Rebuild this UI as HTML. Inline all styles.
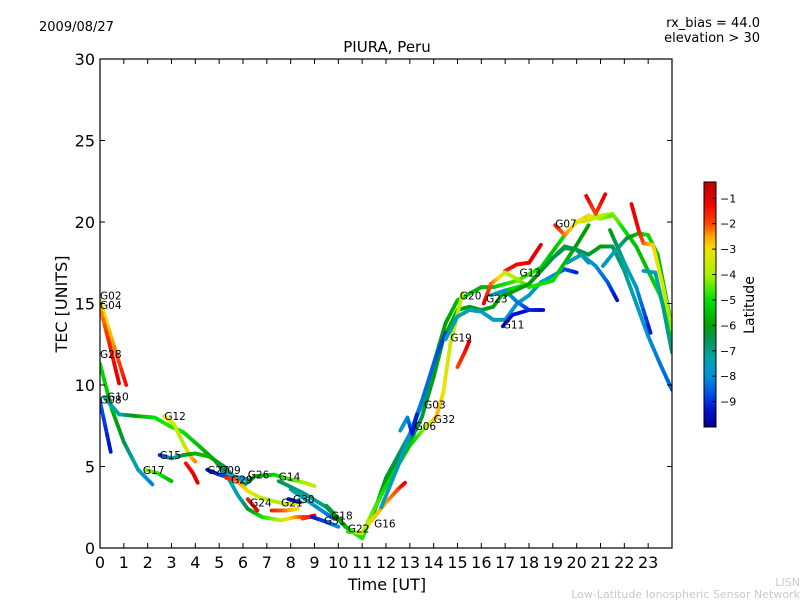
<!DOCTYPE html>
<html><head><meta charset="utf-8"><style>
html,body{margin:0;padding:0;background:#fff;}
svg{display:block;font-family:"DejaVu Sans","Liberation Sans",sans-serif;}
</style></head><body>
<svg id="chart" width="800" height="600" viewBox="0 0 800 600">
<defs>
<linearGradient id="cbgrad" x1="0" y1="1" x2="0" y2="0">
</linearGradient>
<clipPath id="plotclip"><rect x="100" y="59" width="572" height="489"/></clipPath>
</defs>
<text x="39" y="31" font-size="13">2009/08/27</text>
<text x="760" y="27" font-size="13" text-anchor="end">rx_bias = 44.0</text>
<text x="760" y="42" font-size="13" text-anchor="end">elevation &gt; 30</text>
<text x="387" y="52" font-size="15" text-anchor="middle">PIURA, Peru</text>
<g id="tracks" clip-path="url(#plotclip)"></g>
<g id="labels"></g>
<rect x="100" y="59" width="572" height="489" fill="none" stroke="#000" stroke-width="1.2"/>
<g id="axes"></g>
<text x="387" y="590" font-size="16" text-anchor="middle">Time [UT]</text>
<text x="67" y="304" font-size="16" text-anchor="middle" transform="rotate(-90 67 304)">TEC [UNITS]</text>
<rect id="cbar" x="704" y="182" width="12" height="245" fill="url(#cbgrad)" stroke="#000" stroke-width="1"/>
<g id="cbticks"></g>
<text x="754" y="305" font-size="14" text-anchor="middle" transform="rotate(-90 754 305)">Latitude</text>
<text x="800" y="586" font-size="11" fill="#c8c8c8" text-anchor="end">LISN</text>
<text x="800" y="598" font-size="11" fill="#c8c8c8" text-anchor="end">Low-Latitude Ionospheric Sensor Network</text>
</svg>
<script>
const xTicks=[0,1,2,3,4,5,6,7,8,9,10,11,12,13,14,15,16,17,18,19,20,21,22,23];
const yTicks=[0,5,10,15,20,25,30];
const cbTicks=[-1,-2,-3,-4,-5,-6,-7,-8,-9];
const trackNames=["G02","G04","G28","G08","G10","G12","G15","Gr1","G17","G27","G26","G29","G24","G21","G30","Gr2","G31","G18","GA","GB","G32","Gr3","G16","G03","G06","GC","G11","GD","G13","G23","G07","Gr4","GE","GF","GG","GH","GI","GJ"];
const tG02=[[0,15.2,-3.5],[0.5,12.8,-2.6],[1.1,10.0,-1.3]];
const tG04=[[0,14.8,-2.6],[0.4,12.5,-1.6],[0.8,10.1,-1]];
const tG28=[[0,11.3,-5],[0.5,8.5,-5.5],[1,6.5,-6.5],[1.6,4.8,-7.5],[2.2,3.9,-8.2]];
const tG08=[[0,9.0,-8.5],[0.45,5.9,-9.4]];
const tG10=[[0.2,9.2,-7.2],[0.8,8.2,-7.5],[1.5,8.1,-6],[2.3,8.0,-5],[2.9,7.5,-4.8],[3.5,7.1,-5],[4.2,6.2,-5.5],[4.8,5.4,-6],[5.3,4.5,-7],[5.8,3.2,-7.5],[6.2,2.4,-6.5],[6.8,1.9,-5],[7.6,1.7,-3.8],[8.2,1.9,-2.5],[8.9,1.9,-1.3]];
const tG12=[[2.7,8.1,-2.8],[3.1,7.6,-3.5],[3.5,6.4,-3.8],[3.8,5.6,-3],[4.0,5.3,-2.3]];
const tG15=[[2.5,5.7,-9.2],[3.0,5.5,-8],[3.5,5.7,-6.5],[4,5.8,-5.6],[4.6,5.6,-5.6],[5.2,5.0,-6.5],[5.6,4.4,-7.5],[6.2,4.2,-8]];
const tGr1=[[3.6,5.2,-1.5],[3.9,4.6,-1.2],[4.1,4.0,-1]];
const tG17=[[1.9,4.8,-4],[2.4,4.6,-4.6],[3.0,4.1,-5.6]];
const tG27=[[4.5,4.8,-9.5],[5.0,4.5,-9],[5.5,4.3,-8.5],[6.0,4.0,-7.5]];
const tG26=[[6.0,3.8,-7],[6.5,4.4,-6],[7.3,4.5,-5.2],[8,4.2,-4.6],[8.6,4.0,-4],[9,3.8,-3.5]];
const tG29=[[5.3,4.3,-1.5],[5.7,4.2,-2],[6.2,3.5,-3],[6.7,3.1,-3.6],[7.2,2.9,-4],[7.8,2.7,-3.6],[8.5,2.8,-3]];
const tG24=[[6.2,3.0,-1.5],[6.6,2.3,-1.2]];
const tG21=[[7.2,2.3,-1.5],[7.8,2.3,-2.2],[8.3,2.4,-3]];
const tG30=[[7.9,3.0,-9.5],[8.4,2.8,-9]];
const tGr2=[[8.5,1.8,-2],[9,2.0,-1.2]];
const tG31=[[8.9,1.9,-9.3],[9.5,1.6,-8.8],[10,1.3,-8]];
const tG18=[[8.0,3.6,-7.5],[8.6,3.0,-7.5],[9.2,2.4,-7.8],[9.8,1.8,-8.5]];
const tGA=[[7.5,4.1,-6.5],[8.5,3.4,-7],[9.5,2.5,-7],[10.3,1.3,-6.5],[10.9,0.7,-5.2],[11.4,1.8,-5.8],[12,4.3,-6.3],[13,7,-6.8],[13.5,8.8,-7],[14,11.3,-6.5],[14.5,13.8,-6],[15,15.2,-5.6],[15.5,15.6,-5.3],[16,16.0,-5.8],[16.5,16.0,-5.5],[17,16.2,-5],[17.5,16.4,-4.6],[18,16.8,-4.6],[18.5,17.2,-5],[19,18.2,-5.5],[19.5,19.2,-5],[20,20.0,-4],[20.5,20.1,-3.6],[21,20.4,-3.6],[21.5,20.5,-4],[22,19.5,-5],[22.5,18.5,-5.5],[23,17,-5.5],[23.5,15.5,-5],[24,13.0,-5]];
const tGB=[[9.5,2.6,-6.5],[10.4,1.2,-5.5],[11,0.6,-4.8],[11.5,2.3,-5.5],[12,4.0,-6],[13,6.5,-6.3],[13.5,8,-6.5],[14,10.5,-6.2],[14.4,12.8,-6],[15,14.6,-5.8],[15.5,14.8,-6],[16,14.6,-6.5],[16.5,14.8,-6],[17,15.8,-5.5],[17.5,16.0,-5],[18,16.2,-5],[18.5,17.0,-5.5],[19,17.8,-6],[19.5,18.5,-6],[20,18.3,-6.5],[20.5,17.5,-7]];
const tG32=[[10.4,1.0,-5],[11,0.9,-3.5],[11.5,2.4,-4.5],[12,3.8,-5],[13,6.3,-5.5],[13.7,7.5,-4],[14.1,8.0,-2.5],[14.4,9.5,-3],[14.7,12.5,-3.5],[15.2,15.6,-3.8]];
const tGr3=[[15,11.1,-2],[15.3,12,-1.5],[15.5,12.7,-1]];
const tG16=[[11.3,1.5,-3],[12,2.8,-2.5],[12.5,3.6,-2],[12.8,4.0,-1]];
const tG03=[[11.8,2.5,-7.5],[12.5,5,-7.5],[13,7,-8],[13.5,9,-8.3],[14,11.3,-8.5],[14.5,13.2,-9]];
const tG06=[[12.6,7.2,-7.8],[12.9,8,-8],[13.1,7.0,-9.3],[13.3,8.2,-9.2]];
const tGC=[[14.5,12.8,-7.5],[15,14.2,-7.5],[15.5,14.6,-7.5],[16,14.5,-7.5],[16.5,14.0,-7.5],[17,14.0,-8],[17.5,15,-7.8],[18,15.5,-7.6],[18.5,16.3,-7.5],[19,16.7,-8],[19.5,17.1,-8.6],[20,16.9,-9.2]];
const tG11=[[16.9,13.6,-9.5],[17.3,14.3,-9.3],[18,14.6,-9.3]];
const tGD=[[16.4,15.5,-7.5],[17,15.8,-7.8],[17.5,15.1,-8.2],[18,14.6,-9],[18.6,14.6,-9.5]];
const tG13=[[17,17,-1.5],[17.5,17.4,-1.3],[18,17.5,-1.2],[18.5,18.6,-1]];
const tG23=[[16.1,15.0,-1],[16.4,16.2,-2],[17,16.9,-3.5],[17.5,16.5,-4],[18,16.0,-4.8],[19,16.4,-5],[19.5,17.5,-5.5],[20,18.6,-6],[20.5,19.8,-6]];
const tG07=[[19.1,19.8,-1.5],[19.5,19.2,-2.2],[20,20,-3.2],[20.5,20.4,-2.8],[21,20.2,-4],[21.5,20.4,-4.5]];
const tGr4=[[20.4,21.6,-1],[20.8,20.5,-2],[21.2,21.7,-1]];
const tGE=[[17,15.5,-6],[18,16.2,-6],[19,17.8,-6.5],[19.5,18.4,-6.5],[20,18.3,-6.5],[20.5,18.0,-6.5],[21,18.5,-6],[21.5,18.5,-6.5],[22,17,-7],[22.5,15,-7.5],[23,13,-8],[23.5,11.3,-8.3],[24,9.7,-8.5]];
const tGF=[[19.6,17.5,-7],[20.2,18.0,-7.5],[20.8,17.3,-8],[21.3,16.3,-8.5],[21.7,15.2,-9.5]];
const tGG=[[21.1,17.3,-7.8],[21.6,18.2,-7.5],[22.1,19.0,-6.5],[22.6,19.3,-5.5],[23,19.2,-5],[23.4,18,-5.6],[23.8,15,-6],[24,13.5,-6]];
const tGH=[[22.3,21.1,-1],[22.6,19.5,-1.3],[22.8,18.7,-2],[23.2,18.6,-2.8],[23.6,16.2,-3.5],[24,13.4,-4.3]];
const tGI=[[22.8,17.0,-7.5],[23.3,16.9,-7.5],[23.6,15,-7],[24,12,-7]];
const tGJ=[[21.4,19.5,-6],[22,17.5,-7.3],[22.5,16.0,-7.8],[23.1,13.2,-9.4]];
const tracks=[tG02,tG04,tG28,tG08,tG10,tG12,tG15,tGr1,tG17,tG27,tG26,tG29,tG24,tG21,tG30,tGr2,tG31,tG18,tGA,tGB,tG32,tGr3,tG16,tG03,tG06,tGC,tG11,tGD,tG13,tG23,tG07,tGr4,tGE,tGF,tGG,tGH,tGI,tGJ];
const labelNames=["G02","G04","G28","G08","G10","G12","G15","G17","G27","G09","G29","G26","G14","G24","G21","G30","G18","G31","G22","G16","G06","G03","G32","G19","G20","G23","G11","G13","G07"];
const labelHours=[0,0,0,0,0.3,2.7,2.5,1.8,4.5,5.0,5.5,6.2,7.5,6.3,7.6,8.1,9.7,9.4,10.4,11.5,13.2,13.6,14.0,14.7,15.1,16.2,16.9,17.6,19.1];
const labelTec=[15.5,14.9,11.9,9.1,9.3,8.1,5.7,4.8,4.8,4.8,4.2,4.5,4.4,2.8,2.8,3.0,2.0,1.7,1.2,1.5,7.5,8.8,7.9,12.9,15.5,15.3,13.7,16.9,19.9];

const NS="http://www.w3.org/2000/svg";
const X0=100,X1=672,Y0=548,Y1=59;
function xs(h){return X0+h*(X1-X0)/24;}
function ys(v){return Y0-v*(Y0-Y1)/30;}
const CBTOP=-0.36,CBBOT=-10.0;
function cby(l){return 182+(CBTOP-l)/(CBTOP-CBBOT)*245;}
const cStops=[[-10,[0,0,140]],[-9.3,[0,20,210]],[-8.7,[0,80,230]],[-8,[0,145,215]],[-7.3,[0,165,170]],[-6.6,[0,150,90]],[-6,[0,160,0]],[-5,[0,225,0]],[-4,[170,240,0]],[-3,[240,225,0]],[-2.5,[255,165,0]],[-2,[255,70,0]],[-1.2,[240,0,0]],[-0.36,[190,0,0]]];
function col(l){
  if(l<=cStops[0][0])return "rgb("+cStops[0][1]+")";
  for(let i=1;i<cStops.length;i++){
    if(l<=cStops[i][0]){
      const a=cStops[i-1],b=cStops[i],t=(l-a[0])/(b[0]-a[0]);
      const c=a[1].map((v,k)=>Math.round(v+(b[1][k]-v)*t));
      return "rgb("+c.join(",")+")";
    }
  }
  return "rgb("+cStops[cStops.length-1][1]+")";
}
const grad=document.getElementById('cbgrad');
cStops.forEach(s=>{
  const st=document.createElementNS(NS,'stop');
  st.setAttribute('offset',((s[0]-CBBOT)/(CBTOP-CBBOT)).toFixed(4));
  st.setAttribute('stop-color',"rgb("+s[1]+")");
  grad.appendChild(st);
});
const tg=document.getElementById('tracks');
tracks.forEach((tr,ti)=>{
  const g=document.createElementNS(NS,'g');
  
  
  for(let i=0;i<tr.length-1;i++){
    const a=tr[i],b=tr[i+1],n=6;
    for(let k=0;k<n;k++){
      const t0=k/n,t1=(k+1)/n;
      const ln=document.createElementNS(NS,'line');
      ln.setAttribute('x1',xs(a[0]+(b[0]-a[0])*t0));
      ln.setAttribute('y1',ys(a[1]+(b[1]-a[1])*t0));
      ln.setAttribute('x2',xs(a[0]+(b[0]-a[0])*t1));
      ln.setAttribute('y2',ys(a[1]+(b[1]-a[1])*t1));
      ln.setAttribute('stroke',col(a[2]+(b[2]-a[2])*(t0+t1)/2));
      ln.setAttribute('stroke-width','3.8');
      ln.setAttribute('stroke-linecap','round');
      g.appendChild(ln);
    }
  }
  tg.appendChild(g);
});
const lg=document.getElementById('labels');
labelNames.forEach((nm,i)=>{
  const t=document.createElementNS(NS,'text');
  
  
  t.setAttribute('x',xs(labelHours[i]));
  t.setAttribute('y',ys(labelTec[i])+4);
  t.setAttribute('font-size','10.5');
  t.textContent=nm;
  lg.appendChild(t);
});
const ax=document.getElementById('axes');
xTicks.forEach(h=>{
  const x=xs(h);
  [[Y0,Y0-5],[Y1,Y1+5]].forEach(p=>{
    const l=document.createElementNS(NS,'line');
    
    
    l.setAttribute('x1',x);l.setAttribute('x2',x);l.setAttribute('y1',p[0]);l.setAttribute('y2',p[1]);
    l.setAttribute('stroke','#000');ax.appendChild(l);
  });
  const t=document.createElementNS(NS,'text');
  
  
  t.setAttribute('x',x);t.setAttribute('y',568);t.setAttribute('font-size','16');t.setAttribute('text-anchor','middle');
  t.textContent=h;ax.appendChild(t);
});
yTicks.forEach(v=>{
  const y=ys(v);
  [[X0,X0+5],[X1,X1-5]].forEach(p=>{
    const l=document.createElementNS(NS,'line');
    
    
    l.setAttribute('x1',p[0]);l.setAttribute('x2',p[1]);l.setAttribute('y1',y);l.setAttribute('y2',y);
    l.setAttribute('stroke','#000');ax.appendChild(l);
  });
  const t=document.createElementNS(NS,'text');
  
  
  t.setAttribute('x',95);t.setAttribute('y',y+6);t.setAttribute('font-size','16');t.setAttribute('text-anchor','end');
  t.textContent=v;ax.appendChild(t);
});
const cg=document.getElementById('cbticks');
cbTicks.forEach(v=>{
  const y=cby(v);
  const l=document.createElementNS(NS,'line');
  
  
  l.setAttribute('x1',712);l.setAttribute('x2',716);l.setAttribute('y1',y);l.setAttribute('y2',y);
  l.setAttribute('stroke','#000');cg.appendChild(l);
  const t=document.createElementNS(NS,'text');
  
  
  t.setAttribute('x',720);t.setAttribute('y',y+4);t.setAttribute('font-size','11');
  t.textContent='\u2212'+Math.abs(v);cg.appendChild(t);
});
</script>
</body></html>
